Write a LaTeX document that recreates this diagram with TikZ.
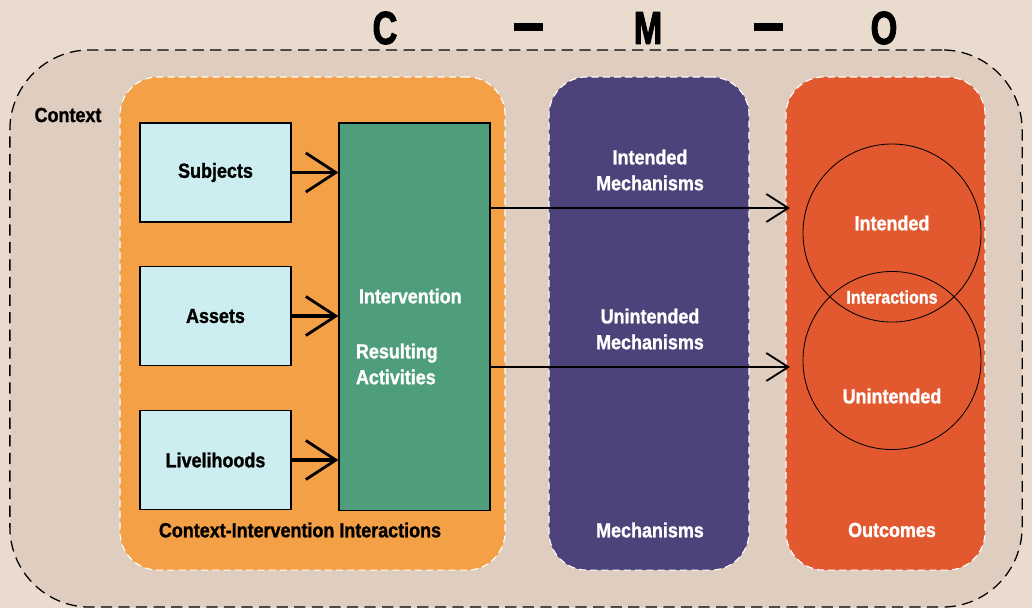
\documentclass[tikz,border=0pt]{standalone}
\usepackage{fontspec}
\setmainfont{Liberation Sans}[FakeStretch=0.88,BoldFeatures={FakeBold=1.2}]
\newfontfamily\titlefont{Liberation Sans Bold}[FakeStretch=0.74,FakeBold=2]
\usetikzlibrary{arrows.meta}

\definecolor{pagebg}{HTML}{E9DCCF}
\definecolor{ctxbg}{HTML}{DFCDBF}
\definecolor{ciorange}{HTML}{F3A047}
\definecolor{mechpurple}{HTML}{4D4279}
\definecolor{outred}{HTML}{E2592F}
\definecolor{boxblue}{HTML}{CDEEF0}
\definecolor{intgreen}{HTML}{4F9E7B}

\begin{document}
\begin{tikzpicture}[x=0.025cm,y=-0.025cm,
  font=\bfseries\fontsize{14.5}{18.4}\selectfont,
  panel/.style={draw=white,line width=0.8pt,dash pattern=on 5pt off 3pt,rounded corners=0.95cm,
    minimum height=12.325cm,inner sep=0pt},
  box/.style={draw=black,line width=0.8pt,fill=boxblue,minimum width=3.775cm,minimum height=2.475cm,inner sep=0pt},
  feed/.style={line width=2.8pt,-{Straight Barb[length=0.75cm,width=0.975cm,line width=2pt]}},
  flow/.style={line width=1.3pt,-{Straight Barb[length=0.55cm,width=0.7cm,line width=1.3pt]}},
  ring/.style={circle,draw=black,line width=0.6pt,minimum size=4.45cm,inner sep=0pt},
  wlabel/.style={text=white,align=center},
  letter/.style={font=\titlefont\fontsize{33}{33}\selectfont},
  bar/.style={fill=black,minimum width=0.725cm,minimum height=0.22cm,inner sep=0pt}]

  \fill[pagebg] (0,0) rectangle (1032,608);
  \useasboundingbox (0,0) rectangle (1032,608);

  % C - M - O
  \node[letter] (t-c)  at (385,28) {C};
  \node[bar]    (t-d1) at (528,27) {};
  \node[letter] (t-m)  at (648,28) {M};
  \node[bar]    (t-d2) at (768,27) {};
  \node[letter] (t-o)  at (884,28) {O};

  \node[draw=black,fill=ctxbg,line width=0.9pt,dash pattern=on 8pt off 4.5pt,rounded corners=2cm,
    minimum width=25.3cm,minimum height=13.925cm] (context) at (516,328.5) {};
  \node (context-lbl) at (68,115) {Context};

  \node[panel,fill=ciorange,minimum width=9.625cm] (ci)  at (312.5,323.5) {};
  \node[panel,fill=mechpurple,minimum width=5cm]   (mech) at (649,323.5) {};
  \node[panel,fill=outred,minimum width=4.975cm]   (out)  at (885.5,323.5) {};

  \node[box] (subjects)    at (215.5,172.5) {Subjects};
  \node[box] (assets)      at (215.5,316)   {Assets};
  \node[box] (livelihoods) at (215.5,460)   {Livelihoods};

  \node[draw=black,line width=0.8pt,fill=intgreen,minimum width=3.775cm,minimum height=9.675cm] (interv) at (414.5,316.5) {};
  \node[text=white,anchor=west] (interv-lbl) at (354,296) {Intervention};
  \node[text=white,anchor=west,align=left] (activities) at (351,364) {Resulting\\Activities};

  \node (ci-lbl) at (300,530) {Context-Intervention Interactions};
  \node[wlabel] (intmech)   at (650,170) {Intended\\Mechanisms};
  \node[wlabel] (unintmech) at (650,329) {Unintended\\Mechanisms};
  \node[wlabel] (mech-lbl)  at (650,530) {Mechanisms};
  \node[wlabel] (out-lbl)   at (892,530) {Outcomes};

  \node[ring] (intended)   at (892,233) {};
  \node[ring] (unintended) at (892,360.5) {};
  \node[wlabel] (intended-lbl)   at (892,223) {Intended};
  \node[wlabel,font=\bfseries\fontsize{13}{16}\selectfont] (interact-lbl) at (892,297) {Interactions};
  \node[wlabel] (unintended-lbl) at (892,396) {Unintended};

  \coordinate (to-int)   at (790,208);
  \coordinate (to-unint) at (790,367);

  \draw[feed] (subjects.east)    -- (interv.west |- subjects.east);
  \draw[feed] (assets.east)      -- (interv.west |- assets.east);
  \draw[feed] (livelihoods.east) -- (interv.west |- livelihoods.east);

  \draw[flow] (interv.east |- to-int)   -- (to-int);
  \draw[flow] (interv.east |- to-unint) -- (to-unint);
\end{tikzpicture}
\end{document}
